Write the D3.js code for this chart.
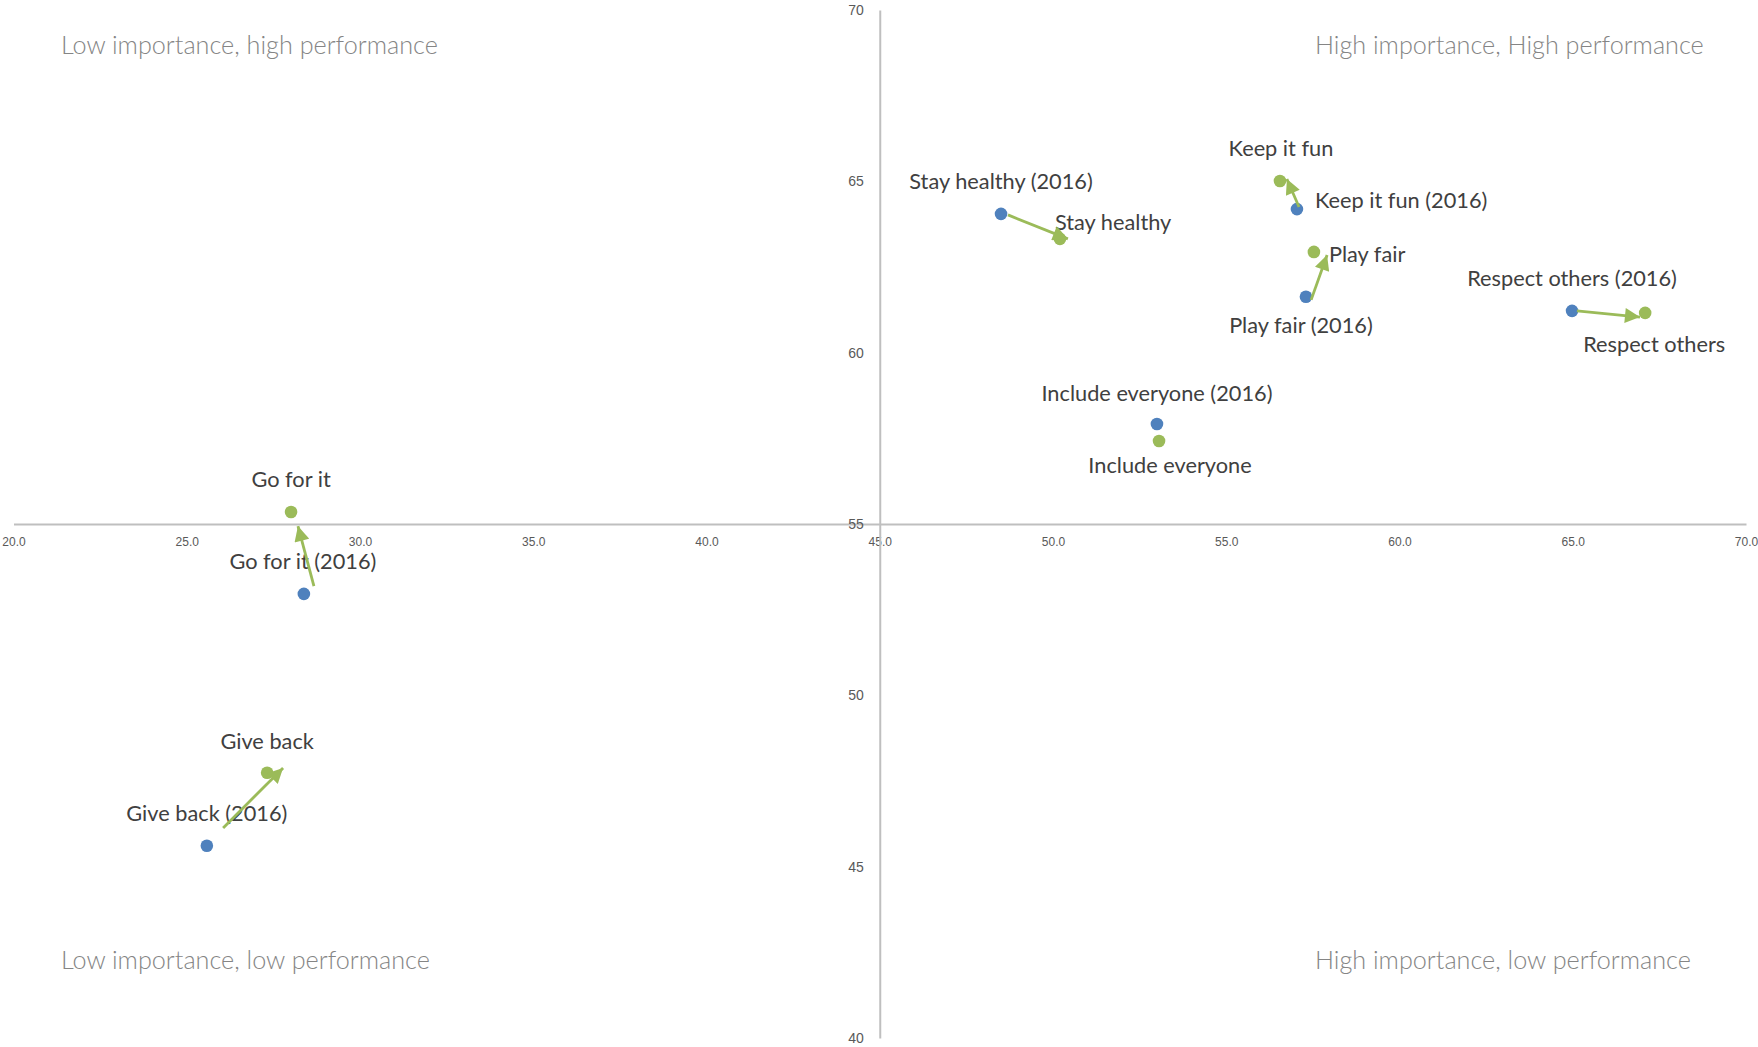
<!DOCTYPE html>
<html>
<head>
<meta charset="utf-8">
<script src="https://cdn.jsdelivr.net/npm/d3@7"></script>
<style>
  html, body { margin: 0; padding: 0; background: #fff; }
  svg { display: block; }
</style>
</head>
<body>
<svg id="chart" width="1758" height="1047"></svg>
<script>
// ---- data ----
const categories = ["Stay healthy", "Keep it fun", "Play fair", "Respect others", "Include everyone", "Go for it", "Give back"];
const importance2016 = [48.50, 57.04, 57.30, 64.98, 53.00, 28.38, 25.58];
const performance2016 = [64.05, 64.19, 61.63, 61.22, 57.92, 52.96, 45.61];
const importanceNow = [50.20, 56.55, 57.53, 67.09, 53.06, 28.01, 27.32];
const performanceNow = [63.32, 65.01, 62.94, 61.16, 57.42, 55.35, 47.74];
// hand-drawn arrows (data units)
const arrowStartX = [48.70, 57.10, 57.45, 65.12, null, 28.67, 26.05];
const arrowStartY = [64.02, 64.25, 61.54, 61.22, null, 53.19, 46.13];
const arrowEndX = [50.43, 56.75, 57.91, 66.94, null, 28.21, 27.78];
const arrowEndY = [63.32, 65.07, 62.85, 61.04, null, 54.94, 47.88];
const xTicks = [20, 25, 30, 35, 40, 45, 50, 55, 60, 65, 70];
const yTicks = [40, 45, 50, 55, 60, 65, 70];
const quadrantLabels = ["Low importance, high performance", "High importance, High performance", "Low importance, low performance", "High importance, low performance"];

// ---- layout (label placement relative to points, pixels) ----
const label2016Layout = [
  {dx: 0, dy: -25, anchor: "middle"},
  {dx: 18, dy: -1, anchor: "start"},
  {dx: -5, dy: 36, anchor: "middle"},
  {dx: 0, dy: -25, anchor: "middle"},
  {dx: 0, dy: -23, anchor: "middle"},
  {dx: -1, dy: -25, anchor: "middle"},
  {dx: 0, dy: -25, anchor: "middle"}
];
const labelNowLayout = [
  {dx: -5, dy: -9, anchor: "start"},
  {dx: 1, dy: -25, anchor: "middle"},
  {dx: 15, dy: 10, anchor: "start"},
  {dx: 9, dy: 39, anchor: "middle"},
  {dx: 11, dy: 32, anchor: "middle"},
  {dx: 0, dy: -25, anchor: "middle"},
  {dx: 0, dy: -24, anchor: "middle"}
];
const quadrantLayout = [
  {x: 61, y: 54, anchor: "start"},
  {x: 1315, y: 54, anchor: "start"},
  {x: 61, y: 969, anchor: "start"},
  {x: 1315, y: 969, anchor: "start"}
];

const BLUE = "#4F81BD", GREEN = "#9BBB59";
const svg = d3.select("#chart");

const x = d3.scaleLinear().domain([20, 70]).range([13.5, 1746]);
const y = d3.scaleLinear().domain([40, 70]).range([1038, 10]);

// font sizing to match reference text widths
const FONT = "Lato, 'Open Sans', sans-serif";
function fitSize(str, target, weight) {
  const t = svg.append("text").attr("font-family", FONT).attr("font-size", 100)
    .attr("font-weight", weight).text(str);
  const w = t.node().getComputedTextLength();
  t.remove();
  return 100 * target / w;
}
const labelSize = fitSize("Go for it (2016)", 147, 400);
const quadSize = fitSize("Low importance, high performance", 377, 300);

// axes
const xAxis = d3.axisBottom(x).tickValues(xTicks).tickFormat(d3.format(".1f"))
  .tickSizeInner(0).tickSizeOuter(0).tickPadding(13);
const yAxis = d3.axisLeft(y).tickValues(yTicks).tickFormat(d3.format("d"))
  .tickSizeInner(0).tickSizeOuter(0).tickPadding(16);

const gx = svg.append("g").attr("transform", `translate(0,${y(55)})`).call(xAxis);
const gy = svg.append("g").attr("transform", `translate(${x(45)},0)`).call(yAxis);
[gx, gy].forEach(g => {
  g.select(".domain").attr("stroke", "#BFBFBF").attr("stroke-width", 2);
  g.selectAll("text").attr("fill", "#595959").attr("font-family", "'Liberation Sans', Arial, sans-serif");
});
gx.selectAll("text").attr("font-size", 12);
gy.selectAll("text").attr("font-size", 14);

// quadrant labels
svg.append("g").selectAll("text").data(quadrantLabels).join("text")
  .attr("x", (d, i) => quadrantLayout[i].x)
  .attr("y", (d, i) => quadrantLayout[i].y)
  .attr("text-anchor", (d, i) => quadrantLayout[i].anchor)
  .attr("font-family", FONT).attr("font-size", quadSize).attr("font-weight", 300)
  .attr("fill", "#858585")
  .text(d => d);

// points
const idx = d3.range(categories.length);
svg.append("g").selectAll("circle").data(idx).join("circle")
  .attr("cx", i => x(importance2016[i])).attr("cy", i => y(performance2016[i]))
  .attr("r", 6.3).attr("fill", BLUE);
svg.append("g").selectAll("circle").data(idx).join("circle")
  .attr("cx", i => x(importanceNow[i])).attr("cy", i => y(performanceNow[i]))
  .attr("r", 6.3).attr("fill", GREEN);

// labels
svg.append("g").selectAll("text").data(idx).join("text")
  .attr("x", i => x(importance2016[i]) + label2016Layout[i].dx)
  .attr("y", i => y(performance2016[i]) + label2016Layout[i].dy)
  .attr("text-anchor", i => label2016Layout[i].anchor)
  .attr("font-family", FONT).attr("font-size", labelSize).attr("fill", "#404040")
  .text(i => categories[i] + " (2016)");
svg.append("g").selectAll("text").data(idx).join("text")
  .attr("x", i => x(importanceNow[i]) + labelNowLayout[i].dx)
  .attr("y", i => y(performanceNow[i]) + labelNowLayout[i].dy)
  .attr("text-anchor", i => labelNowLayout[i].anchor)
  .attr("font-family", FONT).attr("font-size", labelSize).attr("fill", "#404040")
  .text(i => categories[i]);

// arrows
svg.append("defs").append("marker")
  .attr("id", "arrowhead").attr("viewBox", "0 0 10 10")
  .attr("refX", 10).attr("refY", 5)
  .attr("markerUnits", "userSpaceOnUse")
  .attr("markerWidth", 16).attr("markerHeight", 15)
  .attr("orient", "auto")
  .append("path").attr("d", "M0,0 L10,5 L0,10 Z").attr("fill", GREEN);

const arrowIdx = idx.filter(i => arrowStartX[i] !== null);
svg.append("g").selectAll("line").data(arrowIdx).join("line")
  .attr("x1", i => x(arrowStartX[i])).attr("y1", i => y(arrowStartY[i]))
  .attr("x2", i => x(arrowEndX[i])).attr("y2", i => y(arrowEndY[i]))
  .attr("stroke", GREEN).attr("stroke-width", 2.8)
  .attr("marker-end", "url(#arrowhead)");
</script>
</body>
</html>
